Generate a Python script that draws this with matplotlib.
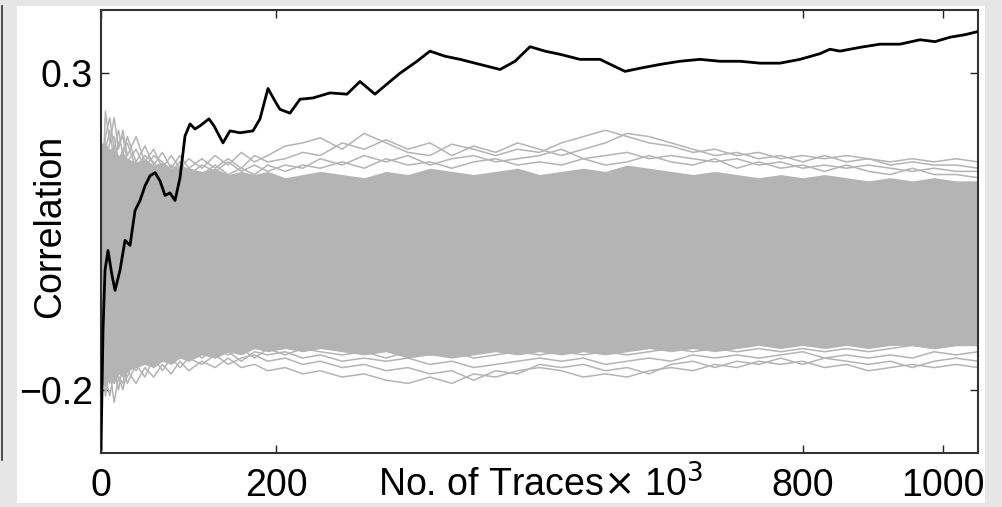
import matplotlib
matplotlib.use("Agg")
import matplotlib.pyplot as plt
from matplotlib.patches import Rectangle
from matplotlib.lines import Line2D

plt.rcParams['font.family'] = ['Liberation Sans', 'DejaVu Sans']

# Correct-key correlation versus number of traces (x in units of 10^3 traces)
key_x = [0, 2.3, 4.6, 8.0, 12.5, 16.0, 21.7, 27.4, 33.1, 38.8, 44.5, 50.2, 55.9,
         61.6, 67.3, 73.0, 78.7, 84.4, 90.1, 95.8, 101.5, 107.2, 112.9, 123.1,
         128.8, 139.1, 147.0, 158.5, 173.3, 181.3, 190.4, 198.4, 204.1, 215.5,
         226.9, 241.7, 261.1, 280.5, 295.3, 312.4, 329.5, 340.9, 360.3, 375.1,
         392.2, 409.4, 432.2, 455.0, 472.1, 489.2, 506.3, 523.4, 546.2, 569.0,
         597.5, 614.6, 637.4, 660.2, 683.0, 705.8, 728.6, 751.4, 774.2, 797.0,
         819.8, 831.2, 842.6, 865.5, 888.3, 911.1, 933.9, 951.0, 968.1, 985.2, 1000]
key_corr = [-0.294, -0.106, -0.011, 0.020, -0.019, -0.043, -0.011, 0.036, 0.028,
            0.083, 0.099, 0.122, 0.138, 0.143, 0.130, 0.107, 0.111, 0.099, 0.135,
            0.201, 0.220, 0.212, 0.217, 0.228, 0.217, 0.190, 0.209, 0.206, 0.209,
            0.228, 0.276, 0.256, 0.243, 0.237, 0.259, 0.261, 0.269, 0.267, 0.287,
            0.267, 0.287, 0.300, 0.319, 0.335, 0.327, 0.322, 0.314, 0.306, 0.319,
            0.342, 0.335, 0.330, 0.322, 0.322, 0.303, 0.308, 0.314, 0.319, 0.322,
            0.319, 0.319, 0.316, 0.316, 0.322, 0.331, 0.338, 0.335, 0.341, 0.346,
            0.346, 0.353, 0.350, 0.357, 0.361, 0.366]

# Wrong-key guesses, all on a shared x grid
guess_x = [0, 5, 10, 15, 20, 25, 30, 40, 50, 60, 70, 80, 90, 100, 115, 130, 145,
           160, 175, 190, 210, 230, 250, 275, 300, 325, 350, 375, 400, 425, 450,
           475, 500, 525, 550, 575, 600, 625, 650, 675, 700, 725, 750, 775, 800,
           825, 850, 875, 900, 925, 950, 975, 1000]
# dense core band where the traces overlap
core_upper = [0.19, 0.19, 0.18, 0.185, 0.17, 0.175, 0.165, 0.16, 0.165, 0.155, 0.16,
              0.15, 0.155, 0.15, 0.145, 0.15, 0.14, 0.145, 0.14, 0.145, 0.135, 0.14,
              0.145, 0.14, 0.135, 0.145, 0.14, 0.15, 0.145, 0.14, 0.145, 0.15, 0.14,
              0.145, 0.15, 0.145, 0.155, 0.15, 0.145, 0.14, 0.145, 0.14, 0.135,
              0.14, 0.135, 0.14, 0.135, 0.13, 0.135, 0.13, 0.135, 0.13, 0.13]
core_lower = [-0.19, -0.195, -0.18, -0.19, -0.175, -0.18, -0.17, -0.165, -0.16,
              -0.165, -0.155, -0.16, -0.15, -0.155, -0.145, -0.15, -0.14, -0.145,
              -0.135, -0.14, -0.135, -0.14, -0.135, -0.14, -0.145, -0.14, -0.15,
              -0.145, -0.15, -0.145, -0.14, -0.145, -0.14, -0.145, -0.14, -0.145,
              -0.14, -0.135, -0.14, -0.135, -0.14, -0.135, -0.13, -0.135, -0.13,
              -0.135, -0.13, -0.135, -0.13, -0.13, -0.135, -0.13, -0.13]
# individual outlying traces
upper_1 = [0.05, 0.24, 0.19, 0.23, 0.18, 0.21, 0.17, 0.20, 0.16, 0.18, 0.15, 0.17,
           0.15, 0.165, 0.15, 0.17, 0.155, 0.175, 0.16, 0.17, 0.185, 0.19, 0.198,
           0.18, 0.205, 0.19, 0.175, 0.17, 0.188, 0.18, 0.17, 0.18, 0.175, 0.19,
           0.20, 0.21, 0.20, 0.19, 0.185, 0.175, 0.18, 0.17, 0.175, 0.165, 0.17,
           0.165, 0.17, 0.165, 0.16, 0.165, 0.16, 0.165, 0.16]
upper_2 = [0.10, 0.20, 0.23, 0.18, 0.21, 0.17, 0.20, 0.16, 0.185, 0.155, 0.175,
           0.15, 0.17, 0.15, 0.165, 0.15, 0.165, 0.15, 0.17, 0.16, 0.165, 0.175,
           0.17, 0.19, 0.18, 0.195, 0.18, 0.19, 0.17, 0.185, 0.175, 0.19, 0.18,
           0.17, 0.18, 0.19, 0.205, 0.20, 0.19, 0.18, 0.17, 0.175, 0.165, 0.17,
           0.16, 0.17, 0.16, 0.165, 0.155, 0.16, 0.155, 0.155, 0.15]
upper_3 = [0.15, 0.18, 0.21, 0.16, 0.19, 0.20, 0.16, 0.18, 0.15, 0.17, 0.16, 0.145,
           0.16, 0.14, 0.155, 0.145, 0.16, 0.145, 0.155, 0.145, 0.155, 0.15, 0.165,
           0.155, 0.17, 0.16, 0.17, 0.155, 0.165, 0.17, 0.16, 0.165, 0.17, 0.18,
           0.165, 0.17, 0.175, 0.165, 0.17, 0.165, 0.16, 0.165, 0.155, 0.16, 0.15,
           0.155, 0.15, 0.155, 0.15, 0.145, 0.15, 0.145, 0.145]
upper_4 = [-0.05, 0.16, 0.19, 0.20, 0.16, 0.18, 0.19, 0.15, 0.17, 0.16, 0.14, 0.155,
           0.14, 0.15, 0.14, 0.155, 0.14, 0.15, 0.14, 0.155, 0.145, 0.155, 0.15,
           0.16, 0.15, 0.165, 0.155, 0.16, 0.15, 0.16, 0.165, 0.155, 0.16, 0.155,
           0.165, 0.155, 0.16, 0.17, 0.16, 0.155, 0.165, 0.15, 0.16, 0.15, 0.155,
           0.145, 0.155, 0.145, 0.14, 0.15, 0.14, 0.14, 0.135]
lower_1 = [-0.08, -0.21, -0.17, -0.22, -0.18, -0.20, -0.17, -0.19, -0.165, -0.18,
           -0.16, -0.175, -0.155, -0.17, -0.155, -0.165, -0.15, -0.165, -0.16,
           -0.17, -0.165, -0.175, -0.17, -0.18, -0.175, -0.185, -0.19, -0.18,
           -0.19, -0.175, -0.18, -0.17, -0.165, -0.17, -0.18, -0.175, -0.18,
           -0.17, -0.165, -0.17, -0.16, -0.165, -0.155, -0.16, -0.155, -0.165,
           -0.16, -0.17, -0.165, -0.16, -0.165, -0.16, -0.165]
lower_2 = [-0.15, -0.18, -0.21, -0.17, -0.20, -0.16, -0.19, -0.16, -0.18, -0.15,
           -0.17, -0.15, -0.165, -0.15, -0.16, -0.145, -0.16, -0.15, -0.145,
           -0.155, -0.15, -0.16, -0.155, -0.165, -0.16, -0.17, -0.165, -0.175,
           -0.17, -0.185, -0.17, -0.175, -0.16, -0.165, -0.16, -0.17, -0.165,
           -0.175, -0.16, -0.155, -0.165, -0.155, -0.16, -0.15, -0.16, -0.15,
           -0.155, -0.16, -0.155, -0.165, -0.155, -0.15, -0.155]
lower_3 = [0.0, -0.16, -0.19, -0.15, -0.18, -0.19, -0.15, -0.17, -0.15, -0.165,
           -0.145, -0.16, -0.14, -0.155, -0.14, -0.15, -0.14, -0.155, -0.14, -0.145,
           -0.14, -0.15, -0.145, -0.155, -0.15, -0.155, -0.15, -0.16, -0.155,
           -0.165, -0.16, -0.155, -0.15, -0.155, -0.15, -0.16, -0.155, -0.15,
           -0.155, -0.145, -0.15, -0.145, -0.15, -0.145, -0.14, -0.15, -0.145,
           -0.15, -0.145, -0.15, -0.14, -0.145, -0.14]
lower_4 = [-0.18, -0.14, -0.17, -0.19, -0.15, -0.17, -0.18, -0.14, -0.16, -0.14,
           -0.155, -0.14, -0.15, -0.135, -0.15, -0.135, -0.145, -0.135, -0.15,
           -0.135, -0.145, -0.135, -0.14, -0.145, -0.14, -0.15, -0.14, -0.145,
           -0.14, -0.15, -0.145, -0.14, -0.145, -0.14, -0.145, -0.14, -0.145,
           -0.14, -0.135, -0.14, -0.135, -0.14, -0.135, -0.14, -0.135, -0.14,
           -0.135, -0.14, -0.135, -0.13, -0.135, -0.13, -0.13]

x_tick_pos = [0, 200, 800, 960]
x_tick_labels = ['0', '200', '800', '1000']
y_ticks = [-0.2, 0.3]
y_tick_labels = ['\u22120.2', '0.3']

W, H = 1003, 507
fig = plt.figure(figsize=(W / 100, H / 100), dpi=100)
fig.patch.set_facecolor('#e6e6e6')

def px_rect(x0, y0, x1, y1, **kw):
    fig.add_artist(Rectangle((x0 / W, 1 - y1 / H), (x1 - x0) / W, (y1 - y0) / H,
                             transform=fig.transFigure, **kw))

# white panel and the neighbouring panel's edge
px_rect(17, 6, 985, 503, facecolor='white', edgecolor='none', zorder=0)
fig.add_artist(Line2D([2.3 / W, 2.3 / W], [1 - 6 / H, 1 - 460 / H],
                      transform=fig.transFigure, color='#333333', lw=1.2))

ax = fig.add_axes([101 / W, 1 - 453 / H, 877 / W, 443 / H])
ax.set_facecolor('white')

grey = '#b4b4b4'
ax.fill_between(guess_x, core_lower, core_upper, color=grey, lw=0, zorder=1)
for tr in (upper_1, upper_2, upper_3, upper_4, lower_1, lower_2, lower_3, lower_4):
    ax.plot(guess_x, tr, color=grey, lw=1.1, zorder=2)
ax.plot(key_x, key_corr, color='black', lw=2.0, zorder=3)

ax.set_xlim(0, 1000)
ax.set_ylim(-0.3, 0.4)
ax.set_xticks(x_tick_pos)
ax.set_xticklabels(x_tick_labels)
ax.set_yticks(y_ticks)
ax.set_yticklabels(y_tick_labels)
ax.tick_params(direction='in', length=6, width=1.0, top=True, right=True,
               labelsize=27, colors='#222222', labelcolor='black')
ax.tick_params(axis='x', pad=11)
ax.tick_params(axis='y', pad=6)
for s in ax.spines.values():
    s.set_linewidth(1.5)
    s.set_color('#333333')

ax.set_ylabel('Correlation', fontsize=27)
ax.yaxis.set_label_coords(-0.038, 0.512)

fig.text(378 / W, 1 - 497 / H, 'No. of Traces$\\times$ 10$^3$', fontsize=27,
         ha='left', va='baseline')

fig.savefig('out.png', dpi=100, facecolor=fig.get_facecolor())
